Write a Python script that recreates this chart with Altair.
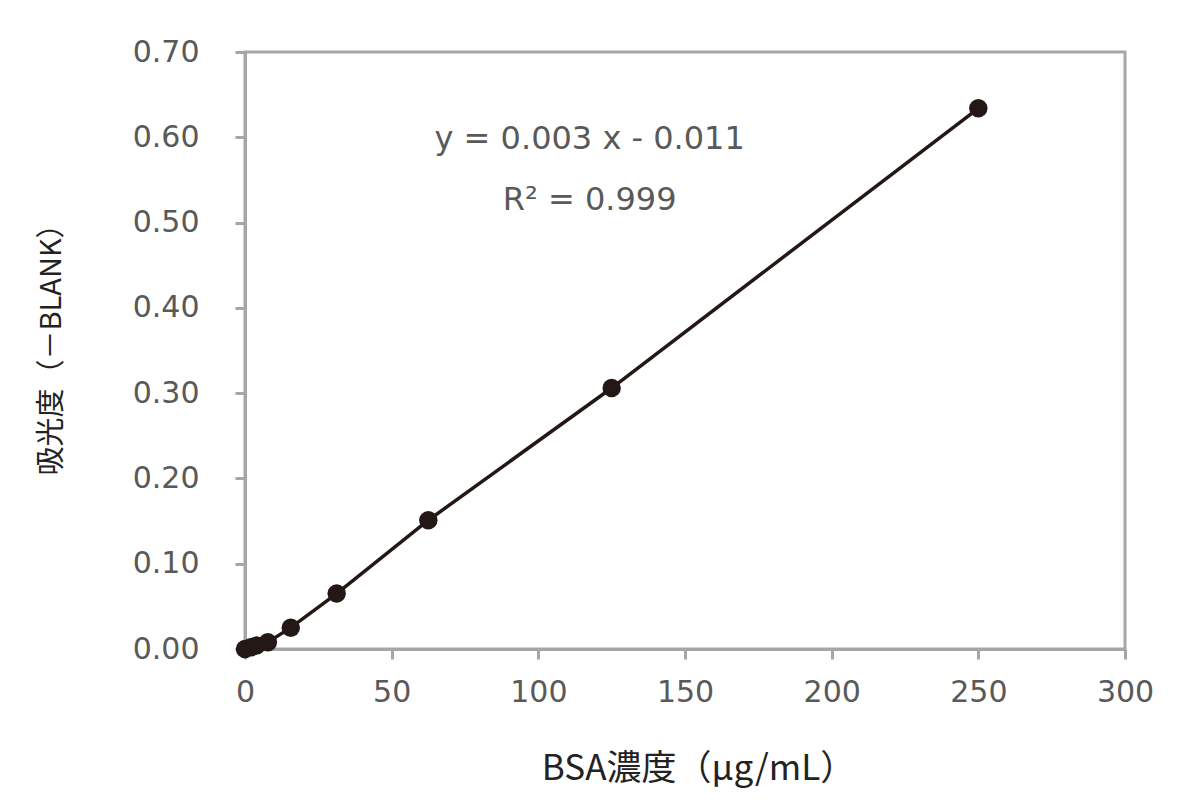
import altair as alt
import pandas as pd

conc = [0, 2, 3.9, 7.8, 15.6, 31.25, 62.5, 125, 250]
absorb = [0.000, 0.002, 0.004, 0.008, 0.025, 0.065, 0.151, 0.306, 0.634]

ann_text = ["y = 0.003 x - 0.011", "R² = 0.999"]
ann_x = [117.5, 117.5]
ann_y = [0.598, 0.527]

x_ticks = [0, 50, 100, 150, 200, 250, 300]
y_ticks = [0.0, 0.1, 0.2, 0.3, 0.4, 0.5, 0.6, 0.7]

df = pd.DataFrame({"x": conc, "y": absorb})
ann = pd.DataFrame({"x": ann_x, "y": ann_y, "t": ann_text})

dark = "#231815"
grey = "#a6a6a6"

xs = alt.Scale(domain=[0, 300], nice=False)
ys = alt.Scale(domain=[0, 0.7], nice=False)

xaxis = alt.Axis(values=x_ticks, title="BSA濃度（μg/mL）", grid=False,
                 labelPadding=18, titlePadding=44, labelFlush=False, titleX=453)
yaxis = alt.Axis(values=y_ticks, format=".2f", title="吸光度（－BLANK）", grid=False,
                 labelPadding=36, titlePadding=66, labelFlush=False, titleY=290)

line = alt.Chart(df).mark_line(color=dark, strokeWidth=3.5).encode(
    x=alt.X("x:Q", scale=xs, axis=xaxis),
    y=alt.Y("y:Q", scale=ys, axis=yaxis),
)
pts = alt.Chart(df).mark_circle(color=dark, size=340, opacity=1).encode(
    x=alt.X("x:Q", scale=xs),
    y=alt.Y("y:Q", scale=ys),
)
txt = alt.Chart(ann).mark_text(font="DejaVu Sans", fontSize=32, color="#595959",
                               align="center", baseline="middle").encode(
    x=alt.X("x:Q", scale=xs),
    y=alt.Y("y:Q", scale=ys),
    text="t:N",
)

chart = (line + pts + txt).properties(
    width=880, height=597,
    autosize=alt.AutoSizeParams(type="none"),
    padding={"left": 237, "top": 44, "right": 60, "bottom": 150},
).configure_view(
    stroke=grey, strokeWidth=3
).configure_axis(
    domainColor=grey, domainWidth=3, tickColor=grey, tickWidth=3, tickSize=10,
    labelFont="DejaVu Sans", labelFontSize=30, labelColor="#595959",
    titleFont="Noto Sans CJK JP", titleFontWeight="normal", titleColor="#222222",
).configure_axisX(titleFontSize=35).configure_axisY(titleFontSize=29)

chart.save("out.html", embed_options={"renderer": "svg", "actions": False})
